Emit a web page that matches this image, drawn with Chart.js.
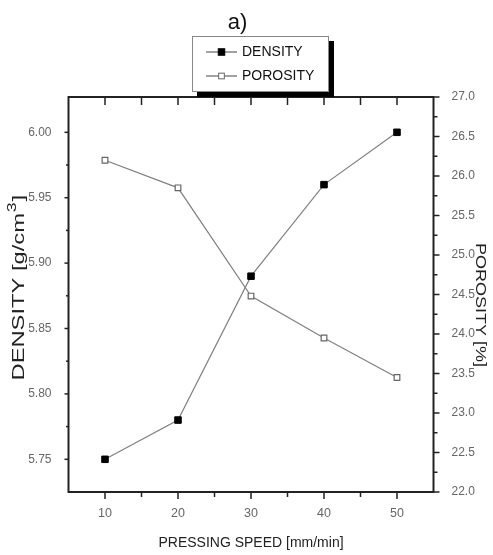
<!DOCTYPE html>
<html><head><meta charset="utf-8">
<script src="https://cdn.jsdelivr.net/npm/chart.js@4.4.1/dist/chart.umd.min.js"></script>
<style>html,body{margin:0;padding:0;background:#fff;overflow:hidden}#wrap{width:493px;height:555px;position:relative}</style>
</head><body><div id="wrap"><canvas id="c" width="493" height="555"></canvas></div>
<script>
// ---- data ----
const chartTitle = 'a)';
const pressingSpeed = [10, 20, 30, 40, 50];
const density = [5.75, 5.78, 5.89, 5.96, 6.00];
const porosity = [26.2, 25.85, 24.48, 23.95, 23.45];
const seriesNames = ['DENSITY', 'POROSITY'];
const xTickValues = [10, 20, 30, 40, 50];
const densityTickValues = [5.75, 5.80, 5.85, 5.90, 5.95, 6.00];
const porosityTickValues = [22.0, 22.5, 23.0, 23.5, 24.0, 24.5, 25.0, 25.5, 26.0, 26.5, 27.0];
const xAxisTitle = 'PRESSING SPEED [mm/min]';
const densityAxisTitle = ['DENSITY [g/cm', '3', ']'];
const porosityAxisTitle = 'POROSITY [%]';

const FONT = "'Liberation Sans', Arial, sans-serif";
const AXIS = '#222';

function mids(arr) {
  const out = [];
  for (let i = 0; i < arr.length - 1; i++) out.push((arr[i] + arr[i + 1]) / 2);
  return out;
}

const framePlugin = {
  id: 'frame',
  afterDraw(chart) {
    const ctx = chart.ctx;
    const a = chart.chartArea;
    const sx = chart.scales.x, sd = chart.scales.yD, sp = chart.scales.yP;
    ctx.save();
    // ticks
    ctx.strokeStyle = AXIS;
    ctx.lineWidth = 1.5;
    const line = (x1, y1, x2, y2) => { ctx.beginPath(); ctx.moveTo(x1, y1); ctx.lineTo(x2, y2); ctx.stroke(); };
    const xMinor = mids(xTickValues);
    xTickValues.forEach(v => { const p = sx.getPixelForValue(v); line(p, a.bottom, p, a.bottom + 7); line(p, a.top, p, a.top + 8); });
    xMinor.forEach(v => { const p = sx.getPixelForValue(v); line(p, a.bottom, p, a.bottom + 5); line(p, a.top, p, a.top + 8); });
    densityTickValues.forEach(v => { const p = sd.getPixelForValue(v); line(a.left, p, a.left - 4, p); });
    mids(densityTickValues).forEach(v => { const p = sd.getPixelForValue(v); line(a.left, p, a.left - 2.5, p); });
    porosityTickValues.forEach(v => { const p = sp.getPixelForValue(v); line(a.right, p, a.right + 6, p); });
    mids(porosityTickValues).forEach(v => { const p = sp.getPixelForValue(v); line(a.right, p, a.right + 4, p); });
    // frame
    ctx.lineWidth = 2;
    ctx.strokeRect(a.left, a.top, a.right - a.left, a.bottom - a.top);

    // title
    ctx.fillStyle = '#111';
    ctx.font = '22px ' + FONT;
    ctx.textAlign = 'center';
    ctx.textBaseline = 'middle';
    ctx.fillText(chartTitle, 237.5, 23);

    // left axis title (stretched along its length)
    ctx.save();
    ctx.translate(18.5, 288.5);
    ctx.rotate(-Math.PI / 2);
    ctx.fillStyle = AXIS;
    ctx.font = '16px ' + FONT;
    const w1 = ctx.measureText(densityAxisTitle[0]).width;
    ctx.font = '12px ' + FONT;
    const w2 = ctx.measureText(densityAxisTitle[1]).width;
    ctx.font = '16px ' + FONT;
    const w3 = ctx.measureText(densityAxisTitle[2]).width;
    const tot = w1 + w2 + w3;
    const s = 184 / tot;
    ctx.scale(s, 1);
    ctx.textAlign = 'left';
    ctx.textBaseline = 'middle';
    let x0 = -tot / 2;
    ctx.fillText(densityAxisTitle[0], x0, 1);
    ctx.font = '12px ' + FONT;
    ctx.fillText(densityAxisTitle[1], x0 + w1 + 0.5, -5.5);
    ctx.font = '16px ' + FONT;
    ctx.fillText(densityAxisTitle[2], x0 + w1 + w2 + 1, 1);
    ctx.restore();

    // right axis title
    ctx.save();
    ctx.translate(480.5, 305);
    ctx.rotate(Math.PI / 2);
    ctx.fillStyle = AXIS;
    ctx.font = '15px ' + FONT;
    const wr = ctx.measureText(porosityAxisTitle).width;
    ctx.scale(124 / wr, 1);
    ctx.textAlign = 'center';
    ctx.textBaseline = 'middle';
    ctx.fillText(porosityAxisTitle, 0, 0);
    ctx.restore();

    // legend with drop shadow
    const bx = 192, by = 36, bw = 137, bh = 56;
    ctx.fillStyle = '#000';
    ctx.fillRect(bx + 5, by + 5, bw, bh);
    ctx.fillStyle = '#fff';
    ctx.fillRect(bx, by, bw, bh);
    ctx.strokeStyle = '#888';
    ctx.lineWidth = 1;
    ctx.strokeRect(bx + 0.5, by + 0.5, bw - 1, bh - 1);
    chart.data.datasets.forEach((ds, i) => {
      const yy = 52 + i * 24;
      ctx.strokeStyle = '#444';
      ctx.lineWidth = 1;
      line(206, yy, 237, yy);
      const r = ds.pointRadius * Math.SQRT1_2;
      ctx.fillStyle = ds.pointBackgroundColor;
      ctx.fillRect(221.5 - r, yy - r, 2 * r, 2 * r);
      ctx.strokeStyle = ds.pointBorderColor;
      ctx.strokeRect(221.5 - r, yy - r, 2 * r, 2 * r);
      ctx.fillStyle = '#111';
      ctx.font = '14px ' + FONT;
      ctx.textAlign = 'left';
      ctx.textBaseline = 'middle';
      ctx.fillText(ds.label, 242, yy + 0.5);
    });
    ctx.restore();
  }
};

new Chart(document.getElementById('c'), {
  type: 'line',
  data: {
    datasets: [
      {
        label: seriesNames[0],
        data: pressingSpeed.map((x, i) => ({ x, y: density[i] })),
        yAxisID: 'yD',
        borderColor: '#808080', borderWidth: 1.2,
        pointStyle: 'rect', pointRadius: 4.6,
        pointBackgroundColor: '#000', pointBorderColor: '#000', pointBorderWidth: 1,
        tension: 0, fill: false
      },
      {
        label: seriesNames[1],
        data: pressingSpeed.map((x, i) => ({ x, y: porosity[i] })),
        yAxisID: 'yP',
        borderColor: '#808080', borderWidth: 1.2,
        pointStyle: 'rect', pointRadius: 4,
        pointBackgroundColor: '#fff', pointBorderColor: '#666', pointBorderWidth: 1.2,
        tension: 0, fill: false
      }
    ]
  },
  options: {
    responsive: false, animation: false, devicePixelRatio: 1,
    layout: { padding: { top: 97, left: 0, right: 0, bottom: 0 } },
    plugins: { legend: { display: false }, tooltip: { enabled: false }, title: { display: false } },
    scales: {
      x: {
        type: 'linear', position: 'bottom', min: 5, max: 55,
        afterBuildTicks: s => { s.ticks = xTickValues.map(v => ({ value: v })); },
        afterFit: s => { s.height = 63; },
        grid: { display: false }, border: { display: false },
        ticks: { color: '#666', font: { family: FONT, size: 12.5 }, padding: 6, maxRotation: 0, autoSkip: false, callback: v => String(v) },
        title: { display: true, text: xAxisTitle, color: AXIS, font: { family: FONT, size: 14 }, padding: { top: 0, bottom: 3.6 } }
      },
      yD: {
        type: 'linear', position: 'left', min: 5.725, max: 6.027,
        afterBuildTicks: s => { s.ticks = densityTickValues.map(v => ({ value: v })); },
        afterFit: s => { s.width = 68.5; },
        grid: { display: false }, border: { display: false },
        ticks: { color: '#666', font: { family: FONT, size: 12 }, padding: 9, autoSkip: false, callback: v => v.toFixed(2) }
      },
      yP: {
        type: 'linear', position: 'right', min: 22, max: 27,
        afterBuildTicks: s => { s.ticks = porosityTickValues.map(v => ({ value: v })); },
        afterFit: s => { s.width = 59.5; },
        grid: { display: false }, border: { display: false },
        ticks: { color: '#666', font: { family: FONT, size: 12 }, padding: 10, autoSkip: false, callback: v => v.toFixed(1) }
      }
    }
  },
  plugins: [framePlugin]
});
</script>
</body></html>
